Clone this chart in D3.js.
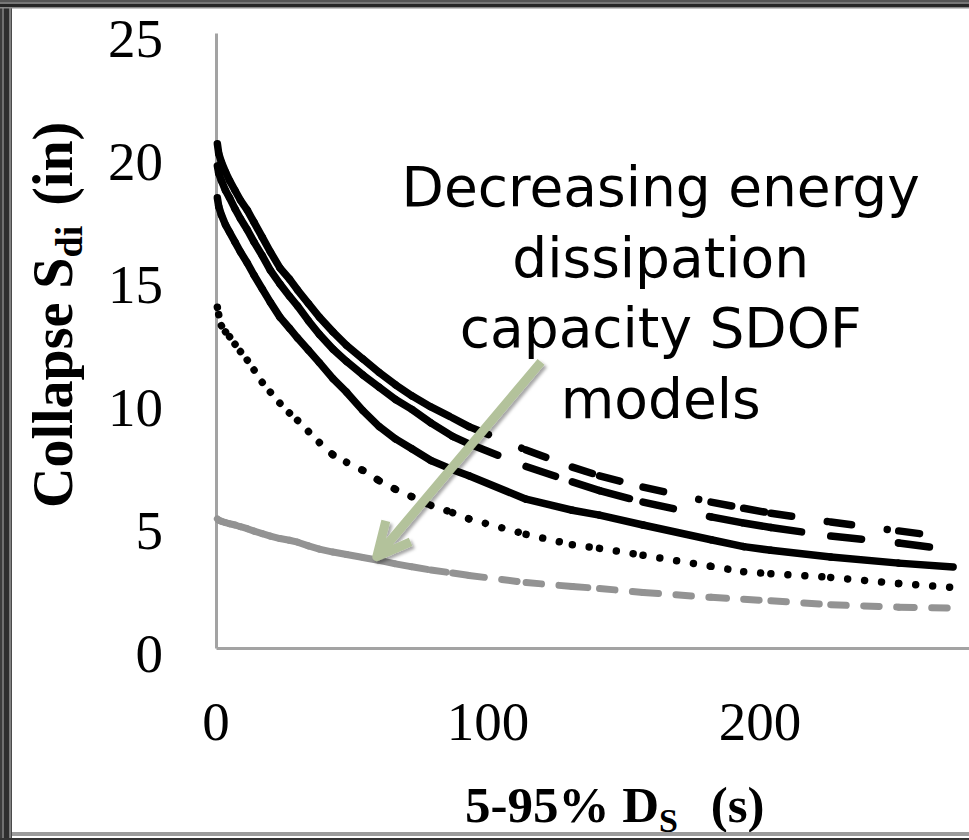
<!DOCTYPE html>
<html>
<head>
<meta charset="utf-8">
<script src="https://cdn.jsdelivr.net/npm/d3@7"></script>
<style>
  html, body { margin: 0; padding: 0; background: #fff; overflow: hidden; }
  svg { display: block; }
</style>
</head>
<body>
<svg id="chart" width="969" height="840"></svg>
<script>
// Strong-motion duration (5-95% Ds, seconds) at which each curve is sampled
const durations = [0.5, 1, 2, 3.5, 5, 7, 9, 11.5, 14, 17, 20, 23.5, 27, 30, 34, 38, 43, 48,
  54, 60, 66, 72, 79, 87, 93, 114, 131, 141, 157, 182, 194, 204, 226, 251, 271];

// Collapse spectral displacement Sdi (in) for each SDOF model
const sdiModel1 = [20.5, 20.1, 19.75, 19.35, 19.0, 18.6, 18.2, 17.8, 17.3, 16.7, 16.1, 15.45, 15.0,
  14.55, 14.0, 13.45, 12.85, 12.3, 11.75, 11.2, 10.7, 10.25, 9.8, 9.35, 9.0, 8.05, 7.35, 7.0,
  6.54, 5.93, 5.68, 5.48, 5.12, 4.76, 4.47];
const sdiModel2 = [19.6, 19.3, 19.0, 18.6, 18.3, 17.85, 17.45, 17.0, 16.5, 15.95, 15.35, 14.8, 14.3,
  13.9, 13.3, 12.75, 12.15, 11.65, 11.1, 10.6, 10.1, 9.7, 9.15, 8.6, 8.3, 7.38, 6.75, 6.4,
  5.93, 5.33, 5.08, 4.9, 4.55, 4.27, 3.98];
const sdiModel3 = [18.3, 17.95, 17.6, 17.2, 16.9, 16.5, 16.1, 15.65, 15.15, 14.6, 14.05, 13.45, 13.0,
  12.6, 12.1, 11.6, 10.95, 10.4, 9.65, 9.0, 8.5, 8.1, 7.62, 7.25, 7.0, 6.05, 5.6, 5.4,
  5.0, 4.4, 4.12, 3.97, 3.7, 3.45, 3.29];
const sdiModel4 = [13.85, 13.55, 13.1, 12.85, 12.65, 12.35, 12.05, 11.7, 11.3, 10.8, 10.4, 9.95, 9.55,
  9.25, 8.8, 8.35, 7.85, 7.55, 7.22, 6.8, 6.45, 6.15, 5.8, 5.5, 5.25, 4.62, 4.2, 4.05,
  3.77, 3.32, 3.1, 3.02, 2.87, 2.62, 2.46];
const sdiModel5 = [5.25, 5.2, 5.15, 5.1, 5.05, 5.0, 4.93, 4.85, 4.75, 4.65, 4.55, 4.45, 4.38,
  4.3, 4.15, 4.02, 3.9, 3.8, 3.68, 3.56, 3.42, 3.3, 3.17, 3.05, 2.95, 2.66, 2.5, 2.42,
  2.26, 2.06, 1.98, 1.92, 1.76, 1.66, 1.62];

const xTicks = [0, 100, 200];
const yTicks = [0, 5, 10, 15, 20, 25];

const noteLines = ["Decreasing energy", "dissipation", "capacity SDOF", "models"];
// annotation anchor and arrow, in data units (seconds, inches)
const noteAnchor = [163.5, 17.95];
const arrowTail = [119.5, 11.63];
const arrowTip = [59.1, 3.71];

const W = 969, H = 840;
const svg = d3.select("#chart");

const x = d3.scaleLinear().domain([0, 300]).range([216, 1032]);
const y = d3.scaleLinear().domain([0, 25]).range([648, 33]);

const defs = svg.append("defs");
const shadow = defs.append("filter").attr("id", "arrowShadow")
  .attr("x", "-20%").attr("y", "-20%").attr("width", "140%").attr("height", "140%");
shadow.append("feDropShadow").attr("dx", 2.5).attr("dy", 2.5)
  .attr("stdDeviation", 1.6).attr("flood-color", "#000").attr("flood-opacity", 0.35);

// axes (no tick marks, light grey lines)
const axisColor = "#a3a3a3";
svg.append("g").attr("transform", `translate(0,${y(0)})`)
  .call(d3.axisBottom(x).tickValues(xTicks).tickSize(0).tickFormat(d3.format("d")).tickPadding(0))
  .call(g => g.select(".domain").attr("stroke", axisColor).attr("stroke-width", 3))
  .call(g => g.selectAll("text").remove());

svg.append("g").attr("transform", `translate(${x(0)},0)`)
  .call(d3.axisLeft(y).tickValues(yTicks).tickSize(0).tickFormat(d3.format("d")))
  .call(g => g.select(".domain").attr("stroke", axisColor).attr("stroke-width", 3))
  .call(g => g.selectAll("text").remove());

// tick labels
const serif = "'Liberation Serif', 'Times New Roman', serif";
svg.append("g").selectAll("text").data(yTicks).join("text")
  .attr("x", 163).attr("y", d => y(d) + 23.5)
  .attr("text-anchor", "end")
  .attr("font-family", serif).attr("font-size", 55).attr("fill", "#000")
  .text(d => d);

svg.append("g").selectAll("text").data(xTicks).join("text")
  .attr("x", d => x(d)).attr("y", 740)
  .attr("text-anchor", "middle")
  .attr("font-family", serif).attr("font-size", 55).attr("fill", "#000")
  .text(d => d);

// series: each segment restarts its dash pattern, as dense records render solid
const series = [
  { values: sdiModel1, color: "#000", width: 7.5, dash: "21 36 0.01 14" },
  { values: sdiModel2, color: "#000", width: 7.5, dash: "31 37" },
  { values: sdiModel3, color: "#000", width: 7.5, dash: null },
  { values: sdiModel4, color: "#000", width: 7.5, dash: "0.01 17" },
  { values: sdiModel5, color: "#939393", width: 7, dash: "15.5 17.5" }
];

const plot = svg.append("g");
series.slice().reverse().forEach(s => {
  const pts = durations.map((d, i) => [x(d), y(s.values[i])]);
  plot.append("g").selectAll("line").data(d3.pairs(pts)).join("line")
    .attr("x1", d => d[0][0]).attr("y1", d => d[0][1])
    .attr("x2", d => d[1][0]).attr("y2", d => d[1][1])
    .attr("stroke", s.color).attr("stroke-width", s.width)
    .attr("stroke-linecap", "round")
    .attr("stroke-dasharray", s.dash);
});

// annotation text
const note = svg.append("text")
  .attr("font-family", "'DejaVu Sans', 'Noto Sans', sans-serif")
  .attr("font-size", 55).attr("fill", "#000").attr("text-anchor", "middle");
noteLines.forEach((t, i) => {
  note.append("tspan").attr("x", x(noteAnchor[0])).attr("y", y(noteAnchor[1]) + i * 70.5).text(t);
});

// arrow pointing toward the lower curves
{
  const tx = x(arrowTail[0]), ty = y(arrowTail[1]);
  const hx = x(arrowTip[0]), hy = y(arrowTip[1]);
  const ang = Math.atan2(ty - hy, tx - hx);
  const len = 37, spread = 26 * Math.PI / 180;
  const w1 = [hx + len * Math.cos(ang - spread), hy + len * Math.sin(ang - spread)];
  const w2 = [hx + len * Math.cos(ang + spread), hy + len * Math.sin(ang + spread)];
  const ag = svg.append("g").attr("filter", "url(#arrowShadow)");
  ag.append("path")
    .attr("d", `M${tx},${ty}L${hx},${hy}M${w1[0]},${w1[1]}L${hx},${hy}L${w2[0]},${w2[1]}`)
    .attr("fill", "none").attr("stroke", "#b3c29b").attr("stroke-width", 9)
    .attr("stroke-linejoin", "round").attr("stroke-linecap", "butt");
}

// axis titles
const yTitle = svg.append("text")
  .attr("transform", "translate(72,508) rotate(-90)")
  .attr("font-family", serif).attr("font-weight", "bold").attr("font-size", 56).attr("fill", "#000");
yTitle.append("tspan").text("Collapse S");
yTitle.append("tspan").attr("font-size", 38).attr("dy", 10).text("di");
yTitle.append("tspan").attr("dy", -10).attr("dx", 6).text(" (in)");

const xTitle = svg.append("text")
  .attr("x", 465).attr("y", 822)
  .attr("font-family", serif).attr("font-weight", "bold").attr("font-size", 51).attr("fill", "#000");
xTitle.append("tspan").text("5-95% D");
xTitle.append("tspan").attr("font-size", 34).attr("dy", 10).text("S");
xTitle.append("tspan").attr("dy", -10).attr("dx", 20).text(" (s)");

// frame
const frame = svg.append("g");
[[0, 2, "#3c3c3c"], [2, 2, "#707070"], [4, 5, "#2e2e2e"], [9, 1.5, "#7a7a7a"], [10.5, 1.5, "#4a4a4a"]]
  .forEach(([x0, w, c]) => frame.append("rect").attr("x", x0).attr("y", 0).attr("width", w).attr("height", H).attr("fill", c));
[[0, 2, "#555"], [2, 2, "#777"], [4, 3, "#262626"], [7, 1.5, "#8a8a8a"]]
  .forEach(([y0, h, c]) => frame.append("rect").attr("x", 0).attr("y", y0).attr("width", W).attr("height", h).attr("fill", c));
frame.append("rect").attr("x", 12).attr("y", 832).attr("width", W).attr("height", 4).attr("fill", "#9c9c9c");
frame.append("rect").attr("x", 0).attr("y", 838).attr("width", W).attr("height", 2).attr("fill", "#333");
</script>
</body>
</html>
